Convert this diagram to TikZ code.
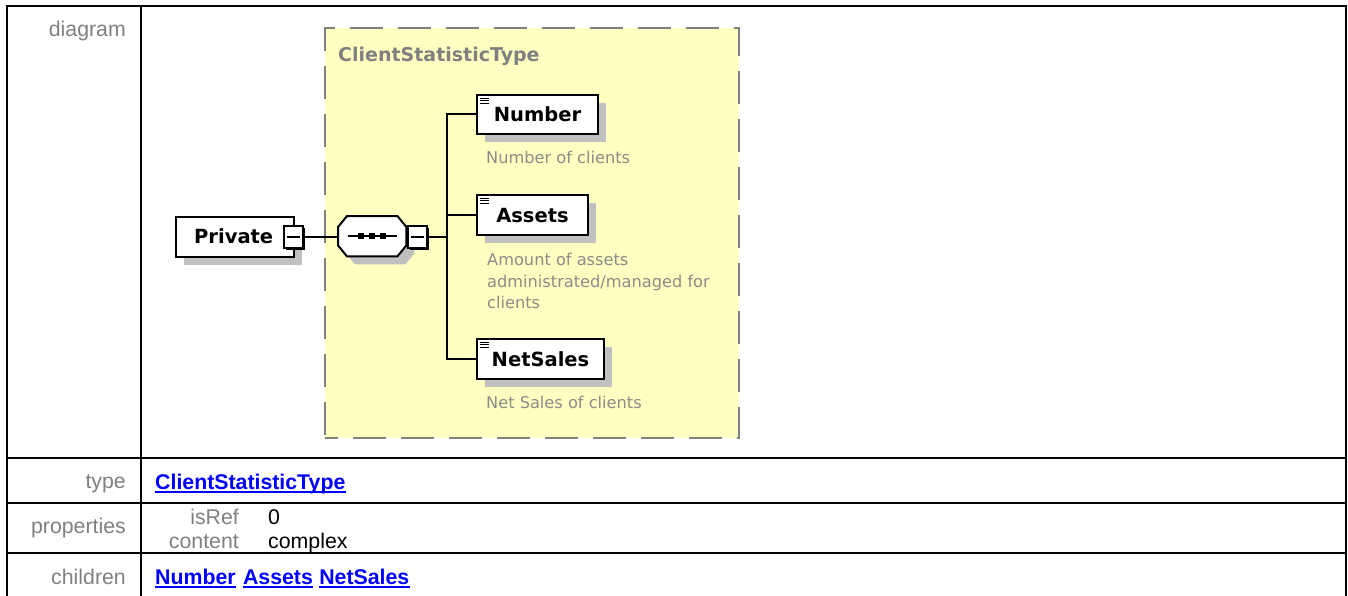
\documentclass[tikz,border=0pt]{standalone}
\usepackage{fontspec}
\setmainfont{Liberation Sans}
\newfontfamily\tah{DejaVu Sans}
\usetikzlibrary{calc,shadows}
\definecolor{yel}{RGB}{255,255,194}
\definecolor{shad}{RGB}{192,192,192}
\definecolor{dashg}{RGB}{128,128,128}
\definecolor{lab}{RGB}{128,128,128}
\definecolor{desc}{RGB}{140,140,136}
\definecolor{lnk}{RGB}{0,0,255}
\begin{document}
\begin{tikzpicture}[x=1pt,y=-1pt,
  tline/.style={line width=2.4pt, black},
  lbl/.style={anchor=base east, inner sep=0, text=lab, font=\fontsize{21.3}{25}\selectfont},
  val/.style={anchor=base west, inner sep=0, text=black, font=\fontsize{21.3}{25}\selectfont},
  lnkt/.style={anchor=base west, inner sep=0, text=lnk, font=\bfseries\fontsize{21.3}{25}\selectfont},
  uline/.style={draw=lnk, line width=1.6pt},
  shadowed/.style={drop shadow={shadow xshift=8pt, shadow yshift=-8pt, fill=shad, opacity=1}},
  elbox/.style={draw=black, line width=2pt, fill=white, inner sep=0, anchor=north west,
     text height=14, text depth=0, font=\tah\bfseries\fontsize{19.5}{22}\selectfont, shadowed},
  btext/.style={anchor=base west, inner sep=0, font=\tah\bfseries\fontsize{19.5}{22}\selectfont},
  dtext/.style={anchor=base west, inner sep=0, text=desc, font=\tah\fontsize{16.2}{20}\selectfont},
  minusbox/.style={draw=black, line width=1.8pt, fill=white, inner sep=0, anchor=north west,
     minimum width=19, minimum height=22,
     drop shadow={shadow xshift=2.5pt, shadow yshift=-2.5pt, fill=black, opacity=1},
     path picture={\draw[line width=1.6pt] ([xshift=3pt]path picture bounding box.west) -- ([xshift=-3pt]path picture bounding box.east);}},
  conn/.style={draw=black, line width=2pt},
  icon/.style={draw=black, line width=1pt}
]
\useasboundingbox[fill=white] (0,0) rectangle (1348,596);

% table
\draw[tline] (7,598) -- (7,6) -- (1346,6) -- (1346,598);
\draw[tline] (141,6) -- (141,598);
\draw[tline] (7,458) -- (1346,458);
\draw[tline] (7,503) -- (1346,503);
\draw[tline] (7,553) -- (1346,553);

% row labels
\node[lbl] (ldiag) at (126,37) {diagram};
\node[lbl] (ltype) at (126,488) {type};
\node[lbl] (lprop) at (126,533) {properties};
\node[lbl] (lchild) at (126,584) {children};

% type row
\node[lnkt] (tval) at (155,489) {ClientStatisticType};
\draw[uline] ([yshift=-3pt]tval.base west) -- ([yshift=-3pt]tval.base east);

% properties
\node[lbl] (pisref) at (239,524) {isRef};
\node[val] (pisrefv) at (268,524) {0};
\node[lbl] (pcont) at (239,548) {content};
\node[val] (pcontv) at (268,548) {complex};

% children
\node[lnkt] (chN) at (155,584) {Number};
\node[lnkt] (chA) at ($(chN.base east)+(7,0)$) {Assets};
\node[lnkt] (chS) at ($(chA.base east)+(6,0)$) {NetSales};
\draw[uline] ([yshift=-3pt]chN.base west) -- ([yshift=-3pt]chN.base east);
\draw[uline] ([yshift=-3pt]chA.base west) -- ([yshift=-3pt]chA.base east);
\draw[uline] ([yshift=-3pt]chS.base west) -- ([yshift=-3pt]chS.base east);

% complex type box
\node[draw=dashg, fill=yel, line width=2pt, dash pattern=on 33pt off 15pt, dash phase=20pt,
      minimum width=414, minimum height=410, anchor=north west, inner sep=0] (ctype) at (324,27) {};
\node[btext, text=dashg, font=\tah\bfseries\fontsize{19}{22}\selectfont] (ctypet) at (338,62) {ClientStatisticType};

% Private element
\node[elbox, minimum width=118, minimum height=40] (private) at (175,216) {};
\node[btext] (privatet) at (194,243) {Private};
\node[minusbox] (pminus) at (283,225) {};

% sequence compositor
\node[inner sep=0, minimum width=68, minimum height=40, anchor=north west] (seq) at (338,216) {};
\draw[line width=2pt, fill=white, shadowed]
  ($(seq.north west)+(9,0)$) -- ($(seq.north east)+(-9,0)$) -- ($(seq.north east)+(0,11)$)
  -- ($(seq.south east)+(0,-11)$) -- ($(seq.south east)+(-9,0)$) -- ($(seq.south west)+(9,0)$)
  -- ($(seq.south west)+(0,-11)$) -- ($(seq.north west)+(0,11)$) -- cycle;
\draw[line width=1.5pt] ($(seq.center)+(-24,0)$) -- ($(seq.center)+(25,0)$);
\foreach \dx in {-11,0,11}
  \fill ($(seq.center)+(\dx,0)+(-2.8,-2.8)$) rectangle ($(seq.center)+(\dx,0)+(2.8,2.8)$);
\node[minusbox] (sminus) at (407,225) {};

\coordinate (bus) at (447,236);

% children elements
\node[elbox, minimum width=121, minimum height=39] (num) at (476,94) {Number};
\node[elbox, minimum width=111, minimum height=40] (assets) at (476,194) {Assets};
\node[elbox, minimum width=127, minimum height=40] (netsales) at (476,338) {NetSales};

\foreach \n in {num,assets,netsales}{
  \draw[icon] ([shift={(4,4.3)}]\n.north west) -- ++(9,0);
  \draw[icon] ([shift={(4,6.8)}]\n.north west) -- ++(9,0);
  \draw[icon] ([shift={(4,9.3)}]\n.north west) -- ++(9,0);
}

% descriptions
\node[dtext] (numd) at (486,164) {Number of clients};
\node[dtext] (assd1) at (487,265) {Amount of assets};
\node[dtext] (assd2) at (487,287) {administrated/managed for};
\node[dtext] (assd3) at (487,308) {clients};
\node[dtext] (netd) at (486,408) {Net Sales of clients};

% connectors
\draw[conn] (pminus.east) -- (pminus.east -| seq.west);
\draw[conn] (sminus.east) -- (sminus.east -| bus);
\draw[conn] (num.west) -| (bus);
\draw[conn] (assets.west) -| (bus);
\draw[conn] (netsales.west) -| (bus);
\end{tikzpicture}
\end{document}
